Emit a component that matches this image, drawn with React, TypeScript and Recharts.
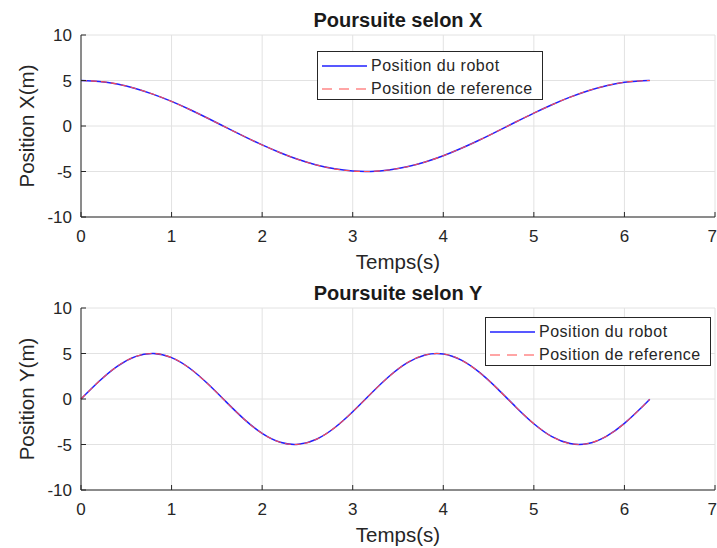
import { CartesianGrid, Label, Legend, Line, LineChart, XAxis, YAxis } from "recharts";

// sample instants (s)
const temps = [
  0, 0.2, 0.4, 0.6, 0.8, 1.0, 1.2, 1.4, 1.6, 1.8, 2.0, 2.2, 2.4, 2.6, 2.8, 3.0, 3.2,
  3.4, 3.6, 3.8, 4.0, 4.2, 4.4, 4.6, 4.8, 5.0, 5.2, 5.4, 5.6, 5.8, 6.0, 6.2, 6.28,
];

// X position (m)
const xRobot = [
  5.0, 4.9, 4.61, 4.13, 3.48, 2.7, 1.81, 0.85, -0.15, -1.14, -2.08, -2.94, -3.69, -4.28,
  -4.71, -4.95, -4.99, -4.83, -4.48, -3.95, -3.27, -2.45, -1.54, -0.56, 0.44, 1.42, 2.34,
  3.17, 3.88, 4.43, 4.8, 4.98, 5.0,
];
const xReference = [
  5.0, 4.9, 4.61, 4.13, 3.48, 2.7, 1.81, 0.85, -0.15, -1.14, -2.08, -2.94, -3.69, -4.28,
  -4.71, -4.95, -4.99, -4.83, -4.48, -3.95, -3.27, -2.45, -1.54, -0.56, 0.44, 1.42, 2.34,
  3.17, 3.88, 4.43, 4.8, 4.98, 5.0,
];

// Y position (m)
const yRobot = [
  0, 1.95, 3.59, 4.66, 5.0, 4.55, 3.38, 1.67, -0.29, -2.21, -3.78, -4.76, -4.98, -4.42,
  -3.16, -1.4, 0.58, 2.47, 3.97, 4.84, 4.95, 4.27, 2.92, 1.11, -0.87, -2.72, -4.14, -4.9,
  -4.89, -4.1, -2.68, -0.83, -0.03,
];
const yReference = [
  0, 1.95, 3.59, 4.66, 5.0, 4.55, 3.38, 1.67, -0.29, -2.21, -3.78, -4.76, -4.98, -4.42,
  -3.16, -1.4, 0.58, 2.47, 3.97, 4.84, 4.95, 4.27, 2.92, 1.11, -0.87, -2.72, -4.14, -4.9,
  -4.89, -4.1, -2.68, -0.83, -0.03,
];

const timeTicks = [0, 1, 2, 3, 4, 5, 6, 7];
const positionTicks = [-10, -5, 0, 5, 10];

const FONT = '"Liberation Sans", Arial, sans-serif';
const INK = "#262626";
const BLUE = "#2020ff";
const RED = "#ff4d4d";

const tickStyle = { fontSize: 17, fill: INK, fontFamily: FONT };
const axisLabelStyle = { fontSize: 20.5, fill: INK, fontFamily: FONT };

type Row = { t: number; robot: number; reference: number };

function buildRows(robot: number[], reference: number[]): Row[] {
  return temps.map((t, i) => ({ t, robot: robot[i], reference: reference[i] }));
}

// time tick label; the last one is pulled in so it stays inside the svg
function TimeTick(props: any) {
  const { x, y, payload } = props;
  const last = payload.value === timeTicks[timeTicks.length - 1];
  return (
    <text
      x={last ? x + 2 : x}
      y={y}
      dy="0.71em"
      textAnchor={last ? "end" : "middle"}
      fontSize={tickStyle.fontSize}
      fill={INK}
      fontFamily={FONT}
    >
      {payload.value}
    </text>
  );
}

function LegendBox() {
  const row = (dashed: boolean, color: string, text: string) => (
    <div style={{ display: "flex", alignItems: "center", height: 23.5 }}>
      <svg width={50} height={10} style={{ marginRight: 3 }}>
        <line
          x1={4}
          x2={49}
          y1={5}
          y2={5}
          stroke={color}
          strokeWidth={dashed ? 1.2 : 1.5}
          strokeDasharray={dashed ? "10 7" : undefined}
        />
      </svg>
      <span style={{ fontSize: 16, letterSpacing: 0.5, color: INK }}>{text}</span>
    </div>
  );
  return (
    <div
      style={{
        width: 226,
        height: 49,
        border: `1px solid ${INK}`,
        background: "#fff",
        fontFamily: FONT,
        paddingTop: 2,
        boxSizing: "border-box",
      }}
    >
      {row(false, BLUE, "Position du robot")}
      {row(true, RED, "Position de reference")}
    </div>
  );
}

type PlotProps = {
  title: string;
  yLabel: string;
  rows: Row[];
  legendLeft: number;
  legendTop: number;
};

function PursuitPlot({ title, yLabel, rows, legendLeft, legendTop }: PlotProps) {
  return (
    <div style={{ position: "relative", width: 717, height: 274 }}>
      <div
        style={{
          position: "absolute",
          left: 81,
          width: 634,
          top: 10,
          textAlign: "center",
          fontFamily: FONT,
          fontWeight: "bold",
          fontSize: 20,
          color: "#1a1a1a",
          lineHeight: "20px",
          zIndex: 1,
        }}
      >
        {title}
      </div>
      <LineChart
        width={717}
        height={274}
        data={rows}
        margin={{ top: 35, right: 2, bottom: 0, left: 0 }}
      >
        <CartesianGrid stroke="#e2e2e2" strokeWidth={1} />
        <XAxis
          dataKey="t"
          type="number"
          domain={[0, 7]}
          ticks={timeTicks}
          height={57}
          stroke={INK}
          tick={<TimeTick />}
          tickSize={-5}
          tickMargin={18}
          interval={0}
        >
          <Label value="Temps(s)" position="insideBottom" offset={5} style={axisLabelStyle} />
        </XAxis>
        <XAxis
          xAxisId="top"
          orientation="top"
          dataKey="t"
          type="number"
          domain={[0, 7]}
          ticks={timeTicks}
          height={0}
          stroke={INK}
          tickSize={-5}
          tickFormatter={() => ""}
          interval={0}
        />
        <YAxis
          type="number"
          domain={[-10, 10]}
          ticks={positionTicks}
          width={81}
          stroke={INK}
          tick={tickStyle}
          tickSize={-5}
          tickMargin={14}
          interval={0}
        >
          <Label
            value={yLabel}
            angle={-90}
            position="insideLeft"
            offset={27}
            style={{ ...axisLabelStyle, textAnchor: "middle" }}
          />
        </YAxis>
        <YAxis
          yAxisId="right"
          orientation="right"
          type="number"
          domain={[-10, 10]}
          ticks={positionTicks}
          width={0}
          stroke={INK}
          tickSize={-5}
          tickFormatter={() => ""}
          interval={0}
        />
        <Legend
          layout="vertical"
          verticalAlign="middle"
          align="center"
          content={() => <LegendBox />}
          wrapperStyle={{ left: legendLeft, top: legendTop, width: "auto" }}
        />
        <Line
          type="natural"
          dataKey="robot"
          name="Position du robot"
          stroke={BLUE}
          strokeWidth={1.5}
          dot={false}
          isAnimationActive={false}
        />
        <Line
          type="natural"
          dataKey="reference"
          name="Position de reference"
          stroke={RED}
          strokeWidth={1.1}
          strokeDasharray="6 4"
          dot={false}
          isAnimationActive={false}
        />
      </LineChart>
    </div>
  );
}

export default function App() {
  return (
    <div
      style={{
        position: "absolute",
        left: 0,
        top: 0,
        width: 717,
        height: 548,
        background: "#fff",
      }}
    >
      <PursuitPlot
        title="Poursuite selon X"
        yLabel="Position X(m)"
        rows={buildRows(xRobot, xReference)}
        legendLeft={317}
        legendTop={51}
      />
      <div style={{ position: "absolute", left: 0, top: 273 }}>
        <PursuitPlot
          title="Poursuite selon Y"
          yLabel="Position Y(m)"
          rows={buildRows(yRobot, yReference)}
          legendLeft={485}
          legendTop={44}
        />
      </div>
    </div>
  );
}
